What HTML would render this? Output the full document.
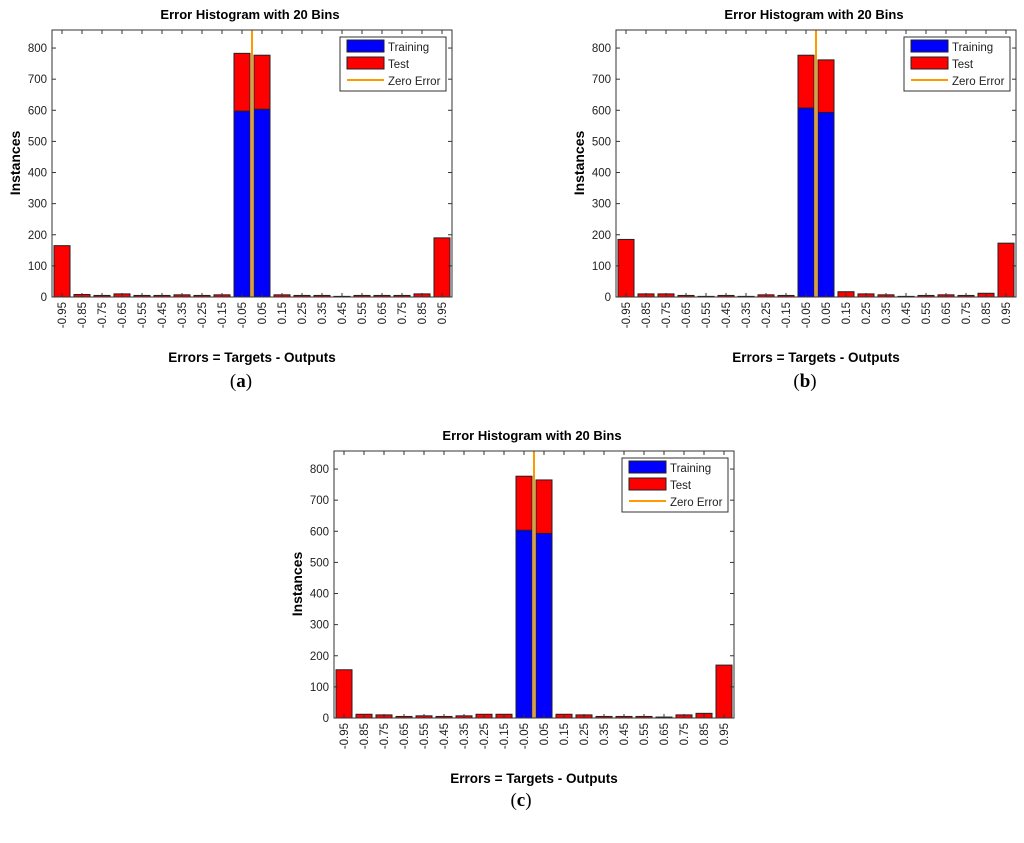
<!DOCTYPE html>
<html><head><meta charset="utf-8"><style>
body{margin:0;background:#fff;width:1024px;height:843px;overflow:hidden}
svg{position:absolute;left:0;top:0}
text{font-family:"Liberation Sans",sans-serif}
text.pl{font-family:"Liberation Serif",serif}
</style></head><body>
<svg id="fig" width="1024" height="843"></svg>
<script>
const binLabels=["-0.95","-0.85","-0.75","-0.65","-0.55","-0.45","-0.35","-0.25","-0.15","-0.05","0.05","0.15","0.25","0.35","0.45","0.55","0.65","0.75","0.85","0.95"];
const yTicks=[0,100,200,300,400,500,600,700,800];
const trainA=[0,0,0,0,0,0,0,0,0,597,603,0,0,0,0,0,0,0,0,0];
const totalA=[165,8,5,10,5,5,7,5,7,783,777,7,5,5,2,5,5,5,10,190];
const trainB=[0,0,0,0,0,0,0,0,0,607,593,0,0,0,0,0,0,0,0,0];
const totalB=[185,10,10,5,2,5,2,7,5,777,762,17,10,7,2,5,7,5,12,173];
const trainC=[0,0,0,0,0,0,0,0,0,603,593,0,0,0,0,0,0,0,0,0];
const totalC=[155,12,10,5,7,5,7,12,12,777,765,12,10,5,5,5,3,10,15,170];
const NS="http://www.w3.org/2000/svg";
const svg=document.getElementById('fig');
function el(tag,attrs,parent,txt){const e=document.createElementNS(NS,tag);for(const k in attrs)e.setAttribute(k,attrs[k]);if(txt!==undefined)e.textContent=txt;(parent||svg).appendChild(e);return e;}
function panel(id,ox,oy,train,total,label,lx,ly){
  const g=el('g',{});
  
  
  const L=ox+52,R=ox+452,T=oy+30,B=oy+297;
  const ymax=858;
  const ys=v=>B-v/ymax*(B-T);
  const bw=(R-L)/binLabels.length;
  const xs=i=>L+i*bw;
  const t=el('text',{x:ox+250,y:oy+19,'text-anchor':'middle','font-size':13,'font-weight':'bold'},g,'Error Histogram with 20 Bins');
  
  for(let i=0;i<binLabels.length;i++){
    const x=xs(i)+2,w=bw-4;
    if(total[i]>train[i]){
      const r=el('rect',{x:x,y:ys(total[i]),width:w,height:ys(train[i])-ys(total[i]),fill:'#ff0000',stroke:'#222','stroke-width':1},g);
      
    }
    if(train[i]>0){
      const r=el('rect',{x:x,y:ys(train[i]),width:w,height:B-ys(train[i]),fill:'#0000ff',stroke:'#222','stroke-width':1},g);
      
    }
    const cx=xs(i)+bw/2;
    el('line',{x1:cx,y1:B,x2:cx,y2:B-4,stroke:'#333'},g);
    el('line',{x1:cx,y1:T,x2:cx,y2:T+4,stroke:'#333'},g);
    const tl=el('text',{x:cx+4,y:B+5,'text-anchor':'end','font-size':11.5,fill:'#222',transform:`rotate(-90 ${cx+4} ${B+5})`},g,binLabels[i]);
    
  }
  yTicks.forEach(v=>{
    const y=ys(v);
    el('line',{x1:L,y1:y,x2:L+4,y2:y,stroke:'#333'},g);
    el('line',{x1:R,y1:y,x2:R-4,y2:y,stroke:'#333'},g);
    const tl=el('text',{x:L-5,y:y+4,'text-anchor':'end','font-size':11.5,fill:'#222'},g,String(v));
    
  });
  const zx=L+(R-L)/2;
  const zl=el('line',{x1:zx,y1:T,x2:zx,y2:B,stroke:'#ff9900','stroke-width':2},g);
  
  const ax=el('rect',{x:L,y:T,width:R-L,height:B-T,fill:'none',stroke:'#333','stroke-width':1},g);
  
  const lg=el('g',{},g);
  
  const gx=L+288,gy=T+7;
  el('rect',{x:gx,y:gy,width:106,height:54,fill:'#fff',stroke:'#333'},lg);
  el('rect',{x:gx+7,y:gy+3,width:37,height:12,fill:'#0000ff',stroke:'#222'},lg);
  el('text',{x:gx+48,y:gy+14,'font-size':11.5,fill:'#222'},lg,'Training');
  el('rect',{x:gx+7,y:gy+20,width:37,height:12,fill:'#ff0000',stroke:'#222'},lg);
  el('text',{x:gx+48,y:gy+31,'font-size':11.5,fill:'#222'},lg,'Test');
  el('line',{x1:gx+7,y1:gy+43,x2:gx+44,y2:gy+43,stroke:'#ff9900','stroke-width':2},lg);
  el('text',{x:gx+48,y:gy+48,'font-size':11.5,fill:'#222'},lg,'Zero Error');
  const yl=el('text',{x:ox+20,y:oy+163,'text-anchor':'middle','font-size':14,'font-weight':'bold',transform:`rotate(-90 ${ox+20} ${oy+163})`},g,'Instances');
  
  const xl=el('text',{x:ox+252,y:oy+362,'text-anchor':'middle','font-size':13.5,'font-weight':'bold'},g,'Errors = Targets - Outputs');
  
  const pl=el('text',{x:lx,y:ly,'text-anchor':'middle','font-size':19,'class':'pl'},svg);
  pl.innerHTML='(<tspan font-weight="bold">'+label+'</tspan>)';
  
}
panel('a',0,0,trainA,totalA,'a',241,387);
panel('b',564,0,trainB,totalB,'b',805,387);
panel('c',282,421,trainC,totalC,'c',521,806);
</script>
</body></html>
